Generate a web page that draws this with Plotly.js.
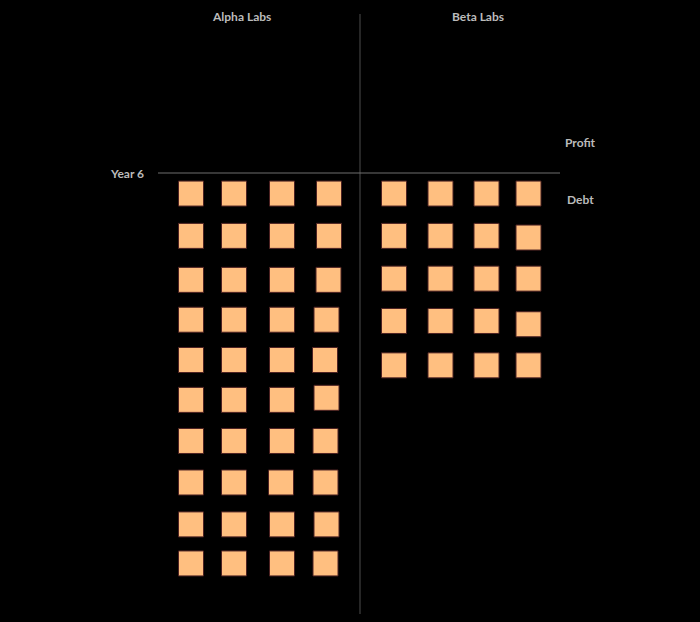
<!DOCTYPE html>
<html>
<head>
<meta charset="utf-8">
<script src="https://cdn.plot.ly/plotly-3.0.1.min.js"></script>
<style>
  html, body { margin: 0; padding: 0; background: #000; }
  #chart { width: 700px; height: 622px; }
</style>
</head>
<body>
<div id="chart"></div>
<script>
// ---- data ----
const companies = ["Alpha Labs", "Beta Labs"];
const debtUnits = [40, 20];
const profitUnits = [0, 0];
const rowLabel = "Year 6";
const measureLabels = ["Profit", "Debt"];

// unit positions (x: slot units, y: rows below the zero line)
const alphaX = [
  0.66, 1.52, 2.48, 3.42,
  0.66, 1.52, 2.48, 3.42,
  0.66, 1.52, 2.48, 3.41,
  0.66, 1.52, 2.48, 3.37,
  0.66, 1.52, 2.48, 3.34,
  0.66, 1.52, 2.48, 3.37,
  0.66, 1.52, 2.48, 3.35,
  0.66, 1.52, 2.46, 3.35,
  0.66, 1.52, 2.48, 3.37,
  0.66, 1.52, 2.48, 3.35
];
const alphaY = [
  -0.50, -0.50, -0.50, -0.50,
  -1.53, -1.53, -1.53, -1.53,
  -2.60, -2.60, -2.60, -2.60,
  -3.57, -3.57, -3.57, -3.57,
  -4.55, -4.55, -4.55, -4.55,
  -5.52, -5.52, -5.52, -5.47,
  -6.52, -6.52, -6.52, -6.52,
  -7.53, -7.53, -7.53, -7.53,
  -8.55, -8.55, -8.55, -8.55,
  -9.50, -9.50, -9.50, -9.50
];
const betaX = [
  0.68, 1.61, 2.53, 3.37,
  0.68, 1.61, 2.53, 3.37,
  0.68, 1.61, 2.53, 3.37,
  0.68, 1.61, 2.53, 3.37,
  0.68, 1.61, 2.53, 3.37
];
const betaY = [
  -0.50, -0.50, -0.50, -0.50,
  -1.53, -1.53, -1.53, -1.57,
  -2.57, -2.57, -2.57, -2.57,
  -3.60, -3.60, -3.60, -3.68,
  -4.68, -4.68, -4.68, -4.68
];

// ---- rendering ----
(function () {
  const W = 700, H = 622;
  const fill = "#ffbf80";
  const edge = "#4d2222";
  const textColor = "#bbbbbb";
  const font = { family: "Lato, 'Open Sans', sans-serif", size: 12, color: textColor, weight: "bold" };

  const marker = { symbol: "square", size: 25, color: fill, line: { color: edge, width: 1 } };

  const traces = [
    { type: "scatter", mode: "markers", name: companies[0],
      x: alphaX.slice(0, debtUnits[0]), y: alphaY.slice(0, debtUnits[0]),
      xaxis: "x", yaxis: "y", marker: marker, hoverinfo: "skip" },
    { type: "scatter", mode: "markers", name: companies[1],
      x: betaX.slice(0, debtUnits[1]), y: betaY.slice(0, debtUnits[1]),
      xaxis: "x2", yaxis: "y", marker: marker, hoverinfo: "skip" }
  ];

  const mTop = 14, mBottom = 8;
  const plotH = H - mTop - mBottom;
  const py = p => (H - mBottom - p) / plotH;   // pixel row -> paper y

  const layout = {
    width: W, height: H,
    margin: { l: 0, r: 0, t: mTop, b: mBottom, pad: 0 },
    paper_bgcolor: "#000", plot_bgcolor: "#000",
    showlegend: false,
    xaxis: { domain: [158 / W, 360 / W], range: [0, 4.04], visible: false, fixedrange: true },
    xaxis2: { domain: [360 / W, 560 / W], range: [0, 4], visible: false, fixedrange: true },
    yaxis: { domain: [0, 1], range: [-10.73, 3.869], visible: false, fixedrange: true },
    shapes: [
      { type: "line", xref: "paper", yref: "paper", x0: 360 / W, x1: 360 / W, y0: 0, y1: 1,
        line: { color: "#4d4d4d", width: 1 } },
      { type: "line", xref: "paper", yref: "y", x0: 158 / W, x1: 560 / W, y0: 0, y1: 0,
        line: { color: "#6e6e6e", width: 1 } }
    ],
    annotations: [
      { text: companies[0], xref: "paper", yref: "paper", x: 241.5 / W, y: py(16.7),
        xanchor: "center", yanchor: "middle", showarrow: false, font: font },
      { text: companies[1], xref: "paper", yref: "paper", x: 478 / W, y: py(16.7),
        xanchor: "center", yanchor: "middle", showarrow: false, font: font },
      { text: rowLabel, xref: "paper", yref: "paper", x: 146 / W, y: py(173),
        xanchor: "right", yanchor: "middle", showarrow: false, font: font },
      { text: measureLabels[0], xref: "paper", yref: "paper", x: 580 / W, y: py(143),
        xanchor: "center", yanchor: "middle", showarrow: false, font: font },
      { text: measureLabels[1], xref: "paper", yref: "paper", x: 580 / W, y: py(199),
        xanchor: "center", yanchor: "middle", showarrow: false, font: font }
    ]
  };

  Plotly.newPlot("chart", traces, layout, { staticPlot: true, displayModeBar: false });
})();
</script>
</body>
</html>
